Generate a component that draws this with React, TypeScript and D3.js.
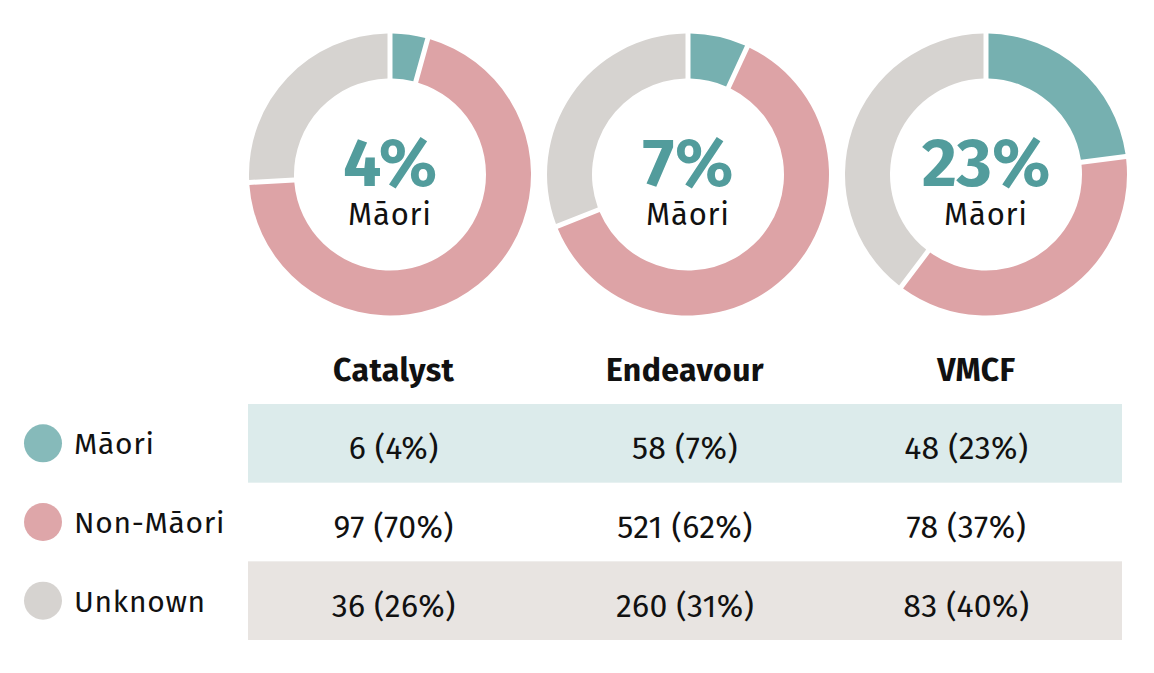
import React from "react";
import * as d3 from "d3";

const programs = ["Catalyst", "Endeavour", "VMCF"];
const groups = ["Māori", "Non-Māori", "Unknown"];
const maoriCounts = [6, 58, 48];
const nonMaoriCounts = [97, 521, 78];
const unknownCounts = [36, 260, 83];
const maoriPct = [4, 7, 23];
const nonMaoriPct = [70, 62, 37];
const unknownPct = [26, 31, 40];

const arcColors = ["#76b0b0", "#dda3a6", "#d6d3d0"];
const legendColors = ["#86baba", "#dea6a9", "#d6d3d0"];
const rowBg = ["#dcebeb", "none", "#e8e4e1"];
const FONT = "'Fira Sans', 'Open Sans', 'Noto Sans', sans-serif";

export default function App() {
  const W = 1154, H = 673;
  const counts = [maoriCounts, nonMaoriCounts, unknownCounts];
  const pcts = [maoriPct, nonMaoriPct, unknownPct];

  const donutX = d3.scalePoint<string>().domain(programs).range([390, 986]);
  const colX = d3.scaleBand<string>().domain(programs).range([248, 1122]);
  const rowY = d3.scaleBand<string>().domain(groups).range([404, 640]);

  const outerR = 141, innerR = 96;
  const pie = d3.pie<number>().sort(null).value((d) => d);
  const arc = d3.arc<d3.PieArcDatum<number>>()
    .innerRadius(innerR)
    .outerRadius(outerR)
    .padAngle(5 / outerR)
    .padRadius(outerR);

  return (
    <svg width={W} height={H} style={{ display: "block", position: "absolute", left: 0, top: 0 }} fontFamily={FONT}>
      <rect width={W} height={H} fill="#ffffff" />
      {programs.map((p, i) => {
        const vals = counts.map((c) => c[i]);
        const cx = donutX(p)!;
        const cy = 174.5;
        return (
          <g key={p} transform={`translate(${cx},${cy})`}>
            {pie(vals).map((a, j) => (
              <path key={j} d={arc(a)!} fill={arcColors[j]} />
            ))}
            <text x={0} y={11} textAnchor="middle" fontSize={68} fontWeight={700} fill="#529c9c">
              {maoriPct[i]}%
            </text>
            <text x={0} y={50} textAnchor="middle" fontSize={31} letterSpacing={0.8} fill="#111">
              Māori
            </text>
          </g>
        );
      })}
      {programs.map((p) => (
        <text key={p} x={colX(p)! + colX.bandwidth() / 2} y={381} textAnchor="middle" fontSize={32} fontWeight={700} letterSpacing={0.4} fill="#111">
          {p}
        </text>
      ))}
      {groups.map((g, r) => {
        const y0 = rowY(g)!;
        const h = rowY.bandwidth();
        const cy = y0 + h / 2;
        return (
          <g key={g}>
            {rowBg[r] !== "none" && (
              <rect x={248} y={y0} width={1122 - 248} height={h} fill={rowBg[r]} />
            )}
            <circle cx={43} cy={cy} r={19} fill={legendColors[r]} />
            <text x={74} y={cy + 11} fontSize={30} letterSpacing={0.7} fill="#111">{g}</text>
            {programs.map((p, i) => (
              <text key={p} x={colX(p)! + colX.bandwidth() / 2 - (i === 2 ? 10 : 0)} y={cy + 16} textAnchor="middle" fontSize={32} letterSpacing={0.3} fill="#111">
                {counts[r][i]} ({pcts[r][i]}%)
              </text>
            ))}
          </g>
        );
      })}
    </svg>
  );
}
